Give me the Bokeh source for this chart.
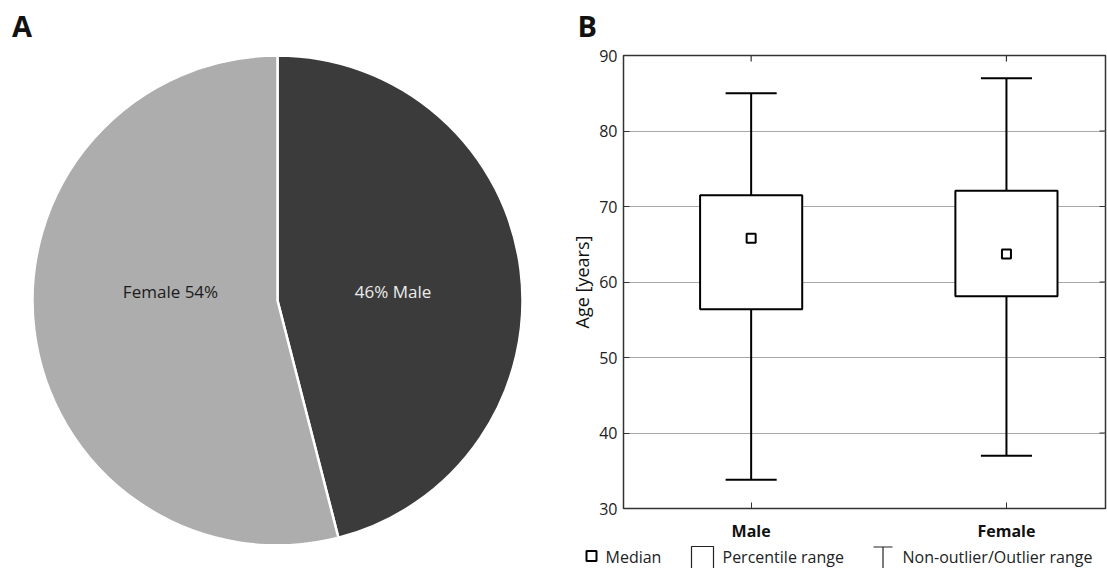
import math
from bokeh.plotting import figure
from bokeh.models import Range1d, FixedTicker, ColumnDataSource
from bokeh.layouts import row, column
from bokeh.embed import file_html
from bokeh.resources import INLINE
from bokeh.core.properties import value

# ---------------- data ----------------
categories = ["Male", "Female"]
shares = [46, 54]                       # percent
pie_labels = ["46% Male", "Female 54%"]

box_q1 = [56.4, 58.1]
box_q3 = [71.5, 72.1]
box_median = [65.8, 63.7]
whisker_low = [33.8, 37.0]
whisker_high = [85.0, 87.0]
y_ticks = [30, 40, 50, 60, 70, 80, 90]

panel_letters = ["A", "B"]
legend_labels = ["Median", "Percentile range", "Non-outlier/Outlier range"]

# ---------------- style ----------------
FONT = "Open Sans"
slice_colors = ["#3b3b3b", "#adadad"]
slice_text_colors = ["#ececec", "#1c1c1c"]
TOTAL_W, TOTAL_H = 1107, 568


def bare(w, h):
    f = figure(width=w, height=h, x_range=Range1d(0, w), y_range=Range1d(0, h),
               x_axis_type=None, y_axis_type=None, min_border=0,
               output_backend="svg", toolbar_location=None)
    f.grid.visible = False
    f.outline_line_color = None
    return f


# ---------------- top strip with panel letters ----------------
STRIP_H = 44
LEG_H = 24
MID_H = TOTAL_H - STRIP_H - LEG_H      # 500

strip = bare(TOTAL_W, STRIP_H)
strip.text(x=[11.5, 577], y=[19, 19], text=panel_letters, text_font=value(FONT),
           text_font_size="29px", text_font_style="bold", text_color="#111111",
           text_baseline="middle")

# ---------------- panel A: pie ----------------
PW = 560
cx, cy, R = 277, MID_H - 256, 245
left = bare(PW, MID_H)

total = float(sum(shares))
starts, ends = [], []
cum = 0.0
for s in shares:
    starts.append(math.radians(90 - cum / total * 360))
    cum += s
    ends.append(math.radians(90 - cum / total * 360))
pie_src = ColumnDataSource(dict(start=starts, end=ends, color=slice_colors, cat=categories))
left.wedge(x=cx, y=cy, radius=R, start_angle="start", end_angle="end", direction="clock",
           fill_color="color", line_color="white", line_width=2.5, source=pie_src)

lab_src = ColumnDataSource(dict(x=[392.5, 170.0], y=[cy + 9, cy + 9], text=pie_labels,
                                color=slice_text_colors))
left.text(x="x", y="y", text="text", source=lab_src, text_color="color",
          text_align="center", text_baseline="middle",
          text_font=value(FONT), text_font_size="17px")

# ---------------- panel B: box plot ----------------
RW = TOTAL_W - PW          # 547
RH = MID_H
BL, BR, BT = 63, 2, 11
BB = RH - BT - 453
frame_w = RW - BL - BR
frame_h = RH - BT - BB
px_per_unit = 255.3
x_end = 0.5 + frame_w / px_per_unit
xs = [i + 1 for i in range(len(categories))]

right = figure(width=RW, height=RH,
               x_range=Range1d(0.5, x_end), y_range=Range1d(30, 90),
               min_border_left=BL, min_border_right=BR, min_border_top=BT, min_border_bottom=BB,
               output_backend="svg", toolbar_location=None)
right.outline_line_color = "#333333"
right.outline_line_width = 1.5
right.xgrid.visible = False
right.ygrid.ticker = FixedTicker(ticks=y_ticks)
right.ygrid.grid_line_color = "#a8a8a8"
right.ygrid.grid_line_width = 1.2

yax = right.yaxis[0]
yax.ticker = FixedTicker(ticks=y_ticks)
yax.major_tick_in = 6
yax.major_tick_out = 0
yax.minor_tick_line_color = None
yax.axis_line_color = "#333333"
yax.major_tick_line_color = "#333333"
yax.major_label_standoff = 6
yax.major_label_text_font = FONT
yax.major_label_text_font_size = "16px"
yax.major_label_text_color = "#222222"
yax.axis_label = "Age [years]"
yax.axis_label_text_font = FONT
yax.axis_label_text_font_size = "18px"
yax.axis_label_text_font_style = "normal"
yax.axis_label_text_color = "#111111"
yax.axis_label_standoff = 2

xax = right.xaxis[0]
xax.ticker = FixedTicker(ticks=xs)
xax.major_label_overrides = {x: c for x, c in zip(xs, categories)}
xax.major_tick_in = 6
xax.major_tick_out = 0
xax.minor_tick_line_color = None
xax.axis_line_color = "#333333"
xax.major_tick_line_color = "#333333"
xax.major_label_standoff = 11
xax.major_label_text_font = FONT
xax.major_label_text_font_size = "16px"
xax.major_label_text_font_style = "bold"
xax.major_label_text_color = "#111111"

# inward ticks on the right and top frame edges
tick_len_x = 6 / px_per_unit
tick_len_y = 6 * 60 / frame_h
right.segment(x0=[x_end - tick_len_x] * len(y_ticks), x1=[x_end] * len(y_ticks),
              y0=y_ticks, y1=y_ticks, line_color="#333333", line_width=1.2)
right.segment(x0=xs, x1=xs, y0=[90 - tick_len_y] * len(xs), y1=[90] * len(xs),
              line_color="#333333", line_width=1.2)

half_box = 0.2
half_cap = 0.1
bsrc = ColumnDataSource(dict(
    x=xs, q1=box_q1, q3=box_q3, med=box_median, lo=whisker_low, hi=whisker_high,
    l=[x - half_box for x in xs], r=[x + half_box for x in xs],
    cl=[x - half_cap for x in xs], cr=[x + half_cap for x in xs]))
right.segment(x0="x", y0="q3", x1="x", y1="hi", line_color="black", line_width=2, source=bsrc)
right.segment(x0="x", y0="q1", x1="x", y1="lo", line_color="black", line_width=2, source=bsrc)
right.segment(x0="cl", y0="hi", x1="cr", y1="hi", line_color="black", line_width=2, source=bsrc)
right.segment(x0="cl", y0="lo", x1="cr", y1="lo", line_color="black", line_width=2, source=bsrc)
right.quad(left="l", right="r", bottom="q1", top="q3", fill_color="white",
           line_color="black", line_width=2, source=bsrc)
right.scatter(x="x", y="med", marker="square", size=9, fill_color="white",
              line_color="black", line_width=2, source=bsrc)

# ---------------- legend strip (full width, pixel coordinates) ----------------
leg = bare(TOTAL_W, LEG_H)
leg.scatter(x=[591], y=[12.5], marker="square", size=10, fill_color=None,
            line_color="black", line_width=2)
leg.multi_line(xs=[[691, 691, 713, 713]], ys=[[0, 22, 22, 0]], line_color="#222222", line_width=1.2)
leg.multi_line(xs=[[873, 892], [882.5, 882.5]], ys=[[21.5, 21.5], [21.5, 0]],
               line_color="#222222", line_width=1.2)
leg.text(x=[605, 722, 902], y=[11.5, 11.5, 11.5], text=legend_labels, text_font=value(FONT),
         text_font_size="16px", text_color="#222222", text_baseline="middle")

layout = column(strip, row(left, column(right)), leg)
open("out.html", "w").write(file_html(layout, INLINE))
